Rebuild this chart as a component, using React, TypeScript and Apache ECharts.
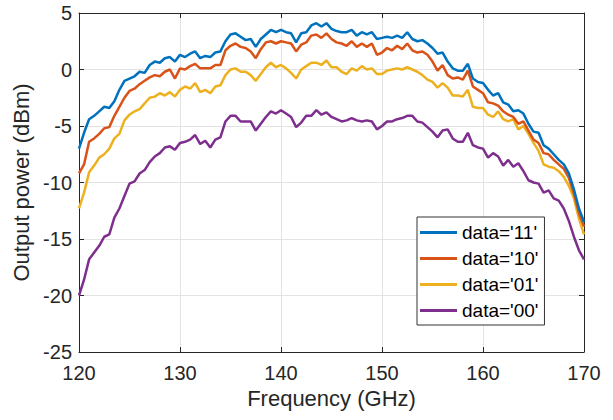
import React, { useEffect, useRef } from "react";
import * as echarts from "echarts";

const freq = [
  120, 120.5, 121, 121.5, 122, 122.5, 123, 123.5, 124, 124.5,
  125, 125.5, 126, 126.5, 127, 127.5, 128, 128.5, 129, 129.5,
  130, 130.5, 131, 131.5, 132, 132.5, 133, 133.5, 134, 134.5,
  135, 135.5, 136, 136.5, 137, 137.5, 138, 138.5, 139, 139.5,
  140, 140.5, 141, 141.5, 142, 142.5, 143, 143.5, 144, 144.5,
  145, 145.5, 146, 146.5, 147, 147.5, 148, 148.5, 149, 149.5,
  150, 150.5, 151, 151.5, 152, 152.5, 153, 153.5, 154, 154.5,
  155, 155.5, 156, 156.5, 157, 157.5, 158, 158.5, 159, 159.5,
  160, 160.5, 161, 161.5, 162, 162.5, 163, 163.5, 164, 164.5,
  165, 165.5, 166, 166.5, 167, 167.5, 168, 168.5, 169, 169.5,
  170,
];

const data11 = [
  -7.0, -5.6, -4.4, -4.1, -3.7, -3.3, -3.4, -2.8, -1.8, -1.0,
  -0.8, -0.6, -0.2, -0.3, 0.4, 0.7, 0.6, 1.0, 1.1, 0.7,
  1.3, 1.1, 1.4, 1.6, 1.0, 1.2, 1.1, 1.5, 1.6, 2.5,
  3.1, 3.2, 2.9, 2.6, 2.7, 2.0, 2.7, 3.1, 3.5, 3.3,
  3.5, 3.3, 3.2, 2.4, 3.2, 3.3, 3.9, 4.1, 3.8, 4.1,
  3.6, 3.4, 3.3, 3.3, 3.5, 3.0, 3.3, 3.1, 3.3, 2.7,
  2.8, 2.9, 2.8, 3.0, 2.8, 3.3, 2.7, 2.5, 2.6, 2.3,
  1.9, 1.4, 1.5, 0.7, 0.1, -0.1, -0.1, 0.5, -0.8, -1.1,
  -1.2, -1.8, -2.3, -2.1, -2.9, -3.1, -3.7, -3.6, -3.9, -4.8,
  -5.5, -5.6, -6.7, -7.0, -7.5, -8.0, -8.4, -9.2, -10.6, -12.3,
  -13.5,
];

const data10 = [
  -9.2, -8.4, -6.4, -6.1, -5.7, -5.2, -5.1, -4.1, -3.3, -2.5,
  -1.9, -1.7, -1.3, -1.0, -0.7, -0.5, -0.6, -0.2, 0.0, -0.8,
  0.1, 0.0, 0.3, 0.5, 0.1, 0.1, 0.1, 0.4, 0.4, 1.7,
  2.1, 2.3, 2.0, 1.9, 1.6, 1.0, 1.8, 2.4, 2.5, 2.3,
  2.5, 2.4, 2.3, 1.6, 2.2, 2.4, 3.0, 3.1, 2.8, 3.2,
  2.7, 2.4, 2.3, 2.1, 2.5, 2.0, 2.3, 2.0, 2.3, 1.3,
  1.5, 1.9, 1.7, 2.1, 1.8, 2.3, 1.7, 1.5, 1.6, 1.3,
  0.7, -0.1, 0.4, -0.5, -0.8, -0.7, -0.9, -0.1, -1.5, -1.8,
  -2.1, -2.9, -3.0, -3.2, -3.7, -4.0, -4.2, -4.8, -4.6, -5.4,
  -6.2, -6.5, -7.4, -7.5, -8.0, -8.4, -8.8, -9.6, -11.0, -12.7,
  -13.9,
];

const data01 = [
  -12.3, -10.9, -9.1, -8.5, -7.8, -7.5, -7.0, -6.1, -5.7, -4.5,
  -4.0, -3.7, -3.5, -3.0, -2.5, -2.4, -2.1, -2.3, -2.0, -2.4,
  -1.8, -1.5, -1.7, -1.2, -2.0, -1.8, -2.1, -1.5, -1.4, -0.5,
  0.0, 0.1, -0.2, -0.2, -0.5, -1.0, -0.4, 0.2, 0.6, 0.2,
  0.4, 0.1, -0.3, -0.8, 0.0, 0.3, 0.6, 0.6, 0.4, 0.8,
  0.2, 0.2, -0.2, -0.4, 0.1, -0.1, 0.3, 0.0, 0.1, -0.4,
  -0.4, -0.1, 0.0, 0.1, 0.0, 0.2, 0.0, -0.2, -0.5, -0.9,
  -1.1, -1.6, -1.2, -1.6, -2.3, -2.3, -2.4, -1.8, -3.3, -3.4,
  -3.4, -4.0, -4.2, -3.7, -4.4, -4.6, -4.4, -5.3, -5.0, -5.7,
  -6.5, -7.2, -8.4, -8.6, -8.7, -9.0, -9.5, -10.3, -11.4, -13.2,
  -14.6,
];

const data00 = [
  -20.0, -18.6, -16.8, -16.2, -15.6, -14.8, -14.6, -13.1, -12.3, -11.2,
  -10.1, -9.9, -9.2, -8.9, -8.2, -7.7, -7.4, -6.9, -6.8, -7.1,
  -6.5, -6.4, -6.2, -5.8, -6.6, -6.3, -6.9, -6.2, -6.0, -4.6,
  -4.1, -4.1, -4.6, -4.6, -4.6, -5.4, -4.8, -4.2, -3.7, -3.9,
  -3.6, -3.9, -4.2, -5.1, -4.7, -4.1, -4.1, -3.6, -4.0, -3.8,
  -4.2, -4.4, -4.6, -4.5, -4.3, -4.5, -4.6, -4.5, -4.6, -5.3,
  -5.0, -4.6, -4.6, -4.4, -4.3, -4.1, -4.1, -4.6, -4.7, -5.1,
  -5.5, -6.0, -5.4, -5.3, -6.1, -6.4, -6.4, -5.6, -6.7, -6.9,
  -7.0, -7.8, -7.4, -7.7, -8.5, -8.0, -8.6, -8.3, -9.0, -9.8,
  -10.0, -10.1, -10.9, -10.7, -11.4, -11.6, -12.3, -13.4, -14.8, -16.0,
  -16.8,
];

const seriesNames = ["data='11'", "data='10'", "data='01'", "data='00'"];
const seriesColors = ["#0072BD", "#D95319", "#EDB120", "#7E2F8E"];
const seriesValues = [data11, data10, data01, data00];

const xTicks = { min: 120, max: 170, interval: 10 };
const yTicks = { min: -25, max: 5, interval: 5 };

const FONT = "'Liberation Sans', Arial, Helvetica, sans-serif";
const AXIS_COLOR = "#262626";
const GRID_COLOR = "#e3e3e3";

export default function App() {
  const ref = useRef<HTMLDivElement>(null);

  useEffect(() => {
    if (!ref.current) return;
    const chart = echarts.init(ref.current, undefined, { renderer: "svg" });

    const baseAxis = {
      type: "value" as const,
      axisLine: { show: true, onZero: false, lineStyle: { color: AXIS_COLOR, width: 1 } },
      axisTick: { show: true, inside: true, length: 5, lineStyle: { color: AXIS_COLOR } },
    };

    chart.setOption({
      animation: false,
      backgroundColor: "#ffffff",
      textStyle: { fontFamily: FONT },
      grid: { left: 79, right: 29, top: 13, bottom: 68, containLabel: false },
      xAxis: [
        {
          ...baseAxis,
          position: "bottom",
          ...xTicks,
          name: "Frequency (GHz)",
          nameLocation: "middle",
          nameGap: 35,
          nameTextStyle: { fontSize: 22, color: AXIS_COLOR, fontFamily: FONT },
          axisLabel: { fontSize: 20, color: AXIS_COLOR, margin: 11, fontFamily: FONT },
          splitLine: { show: true, lineStyle: { color: GRID_COLOR, width: 1 } },
        },
        {
          ...baseAxis,
          position: "top",
          ...xTicks,
          axisLabel: { show: false },
          splitLine: { show: false },
        },
      ],
      yAxis: [
        {
          ...baseAxis,
          position: "left",
          ...yTicks,
          name: "Output power (dBm)",
          nameLocation: "middle",
          nameGap: 44,
          nameTextStyle: { fontSize: 22, color: AXIS_COLOR, fontFamily: FONT },
          axisLabel: { fontSize: 20, color: AXIS_COLOR, margin: 7, fontFamily: FONT },
          splitLine: { show: true, lineStyle: { color: GRID_COLOR, width: 1 } },
        },
        {
          ...baseAxis,
          position: "right",
          ...yTicks,
          axisLabel: { show: false },
          splitLine: { show: false },
        },
      ],
      legend: {
        orient: "vertical",
        left: 417,
        top: 217,
        icon: "rect",
        itemWidth: 37,
        itemHeight: 3,
        itemGap: 7,
        padding: [6, 6, 5, 3],
        borderColor: "#333333",
        borderWidth: 1,
        backgroundColor: "#ffffff",
        textStyle: { fontSize: 19, color: "#000000", fontFamily: FONT, lineHeight: 18 },
        data: seriesNames,
      },
      series: seriesNames.map((name, i) => ({
        name,
        type: "line",
        xAxisIndex: 0,
        yAxisIndex: 0,
        symbol: "none",
        color: seriesColors[i],
        lineStyle: { color: seriesColors[i], width: 2.5 },
        data: freq.map((f, j) => [f, seriesValues[i][j]]),
        z: 10 - i,
      })),
    });

    return () => chart.dispose();
  }, []);

  return (
    <div
      ref={ref}
      style={{ position: "fixed", left: 0, top: 0, width: 613, height: 420 }}
    />
  );
}
